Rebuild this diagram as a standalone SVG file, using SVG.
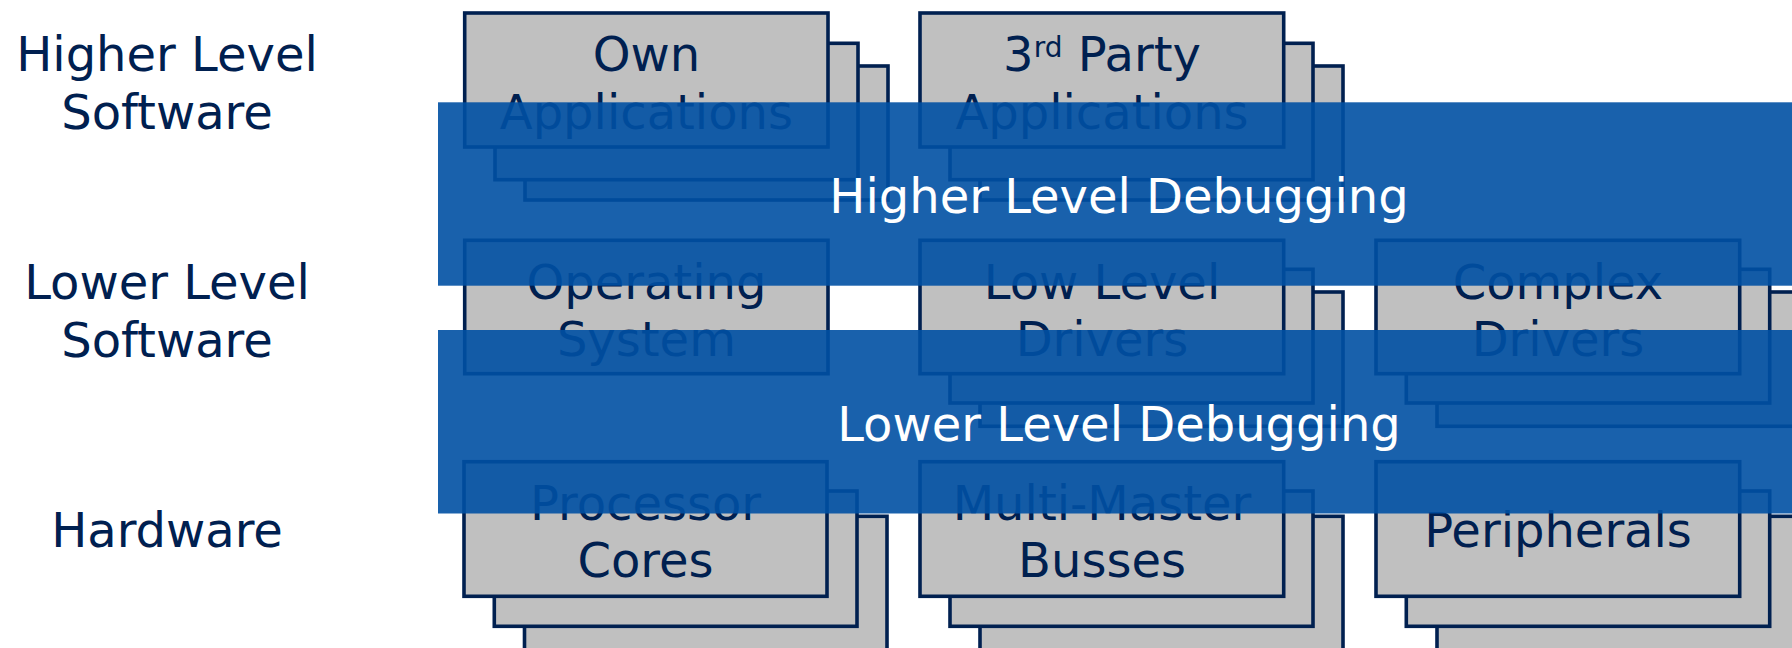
<svg xmlns="http://www.w3.org/2000/svg" width="1792" height="648" viewBox="0 0 1792 648">
  <style>
    .box { fill: #c0c0c0; stroke: #002050; stroke-width: 3.6; }
    .lbl { font-family: "DejaVu Sans", Verdana, sans-serif; font-size: 48px; fill: #002050; text-anchor: middle; }
    .band { fill: #0050a3; opacity: 0.9; }
    .btxt { font-family: "DejaVu Sans", Verdana, sans-serif; font-size: 48px; fill: #ffffff; text-anchor: middle; }
  </style>
  <rect width="1792" height="648" fill="#ffffff"/>

  <!-- layer captions on the left -->
  <g id="layer-higher">
    <text class="lbl" x="167" y="71">Higher Level</text>
    <text class="lbl" x="167" y="129">Software</text>
  </g>
  <g id="layer-lower">
    <text class="lbl" x="167" y="299">Lower Level</text>
    <text class="lbl" x="167" y="357">Software</text>
  </g>
  <g id="layer-hardware">
    <text class="lbl" x="167" y="547">Hardware</text>
  </g>

  <!-- higher level software -->
  <g id="own-applications">
    <rect class="box" x="525" y="66" width="363" height="134"/>
    <rect class="box" x="495" y="43.3" width="363" height="136.4"/>
    <rect class="box" x="464.7" y="13" width="363.3" height="134"/>
    <text class="lbl" x="646.4" y="71">Own</text>
    <text class="lbl" x="646.4" y="128.5">Applications</text>
  </g>
  <g id="third-party-applications">
    <rect class="box" x="980" y="66" width="363" height="134"/>
    <rect class="box" x="950" y="43.3" width="363" height="136.4"/>
    <rect class="box" x="920" y="13" width="363.7" height="134"/>
    <text class="lbl" x="1102" y="71">3<tspan font-size="28" dy="-14">rd</tspan><tspan dy="14"> Party</tspan></text>
    <text class="lbl" x="1102" y="128.5">Applications</text>
  </g>

  <!-- lower level software -->
  <g id="operating-system">
    <rect class="box" x="464.7" y="240.3" width="363.3" height="133.4"/>
    <text class="lbl" x="646.4" y="298.5">Operating</text>
    <text class="lbl" x="646.4" y="355.5">System</text>
  </g>
  <g id="low-level-drivers">
    <rect class="box" x="980" y="292" width="363" height="134.3"/>
    <rect class="box" x="950" y="269.3" width="363" height="133.7"/>
    <rect class="box" x="920" y="240.3" width="363.7" height="133.4"/>
    <text class="lbl" x="1102" y="298.5">Low Level</text>
    <text class="lbl" x="1102" y="355.5">Drivers</text>
  </g>
  <g id="complex-drivers">
    <rect class="box" x="1437" y="292" width="363" height="134.3"/>
    <rect class="box" x="1406.3" y="269.3" width="363.4" height="133.7"/>
    <rect class="box" x="1376" y="240.3" width="363.7" height="133.4"/>
    <text class="lbl" x="1558" y="298.5">Complex</text>
    <text class="lbl" x="1558" y="355.5">Drivers</text>
  </g>

  <!-- hardware -->
  <g id="processor-cores">
    <rect class="box" x="524.5" y="516.3" width="362.5" height="134"/>
    <rect class="box" x="494.3" y="491" width="362.7" height="135.3"/>
    <rect class="box" x="464" y="461.7" width="363" height="134.6"/>
    <text class="lbl" x="645.5" y="519.7">Processor</text>
    <text class="lbl" x="645.5" y="577">Cores</text>
  </g>
  <g id="multi-master-busses">
    <rect class="box" x="980" y="516.3" width="363" height="134"/>
    <rect class="box" x="950" y="491" width="363" height="135.3"/>
    <rect class="box" x="920" y="461.7" width="363.7" height="134.6"/>
    <text class="lbl" x="1102" y="519.7">Multi-Master</text>
    <text class="lbl" x="1102" y="577">Busses</text>
  </g>
  <g id="peripherals">
    <rect class="box" x="1437" y="516.3" width="363" height="134"/>
    <rect class="box" x="1406.3" y="491" width="363.4" height="135.3"/>
    <rect class="box" x="1376" y="461.7" width="363.7" height="134.6"/>
    <text class="lbl" x="1558" y="546.7">Peripherals</text>
  </g>

  <!-- debugging scopes laid over the stack -->
  <g id="higher-level-debugging">
    <rect class="band" x="438" y="102.3" width="1354" height="183.4"/>
    <text class="btxt" x="1119" y="212.7">Higher Level Debugging</text>
  </g>
  <g id="lower-level-debugging">
    <rect class="band" x="438" y="330" width="1354" height="183.5"/>
    <text class="btxt" x="1119" y="440.7">Lower Level Debugging</text>
  </g>
</svg>
